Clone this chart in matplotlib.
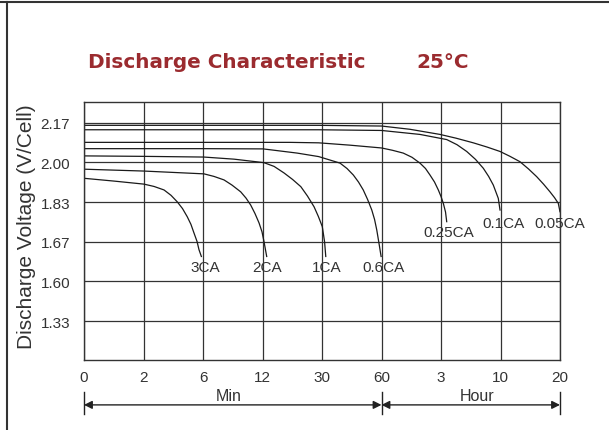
import numpy as np
import matplotlib
matplotlib.use("Agg")
import matplotlib.pyplot as plt

# axis ticks (time in minutes, voltage per cell)
time_ticks = [0, 2, 6, 12, 30, 60, 180, 600, 1200]
time_labels = ["0", "2", "6", "12", "30", "60", "3", "10", "20"]
volt_ticks = [1.33, 1.60, 1.67, 1.83, 2.00, 2.17]
volt_labels = ["1.33", "1.60", "1.67", "1.83", "2.00", "2.17"]

# discharge curves: minutes / volts
t_3ca = [0, 1.01, 2.03, 2.71, 3.38, 3.85, 4.27, 4.62, 4.94, 5.19, 5.39, 5.6, 5.73, 5.89]
v_3ca = [1.932, 1.920, 1.907, 1.897, 1.882, 1.859, 1.831, 1.804, 1.771, 1.740, 1.706, 1.671,
         1.656, 1.644]

t_2ca = [0, 2.03, 6.1, 7.11, 8.12, 8.92, 9.8, 10.34, 10.81, 11.24, 11.65, 11.95, 12.45, 13.27]
v_2ca = [1.971, 1.963, 1.951, 1.940, 1.925, 1.903, 1.874, 1.847, 1.818, 1.784, 1.746, 1.710,
         1.671, 1.644]

t_1ca = [0, 2.03, 6.1, 9.13, 12.45, 15.5, 18.5, 21.1, 23.6, 25.6, 27.6, 28.9, 30.15, 31.3, 31.9]
v_1ca = [2.028, 2.026, 2.023, 2.014, 1.999, 1.983, 1.955, 1.927, 1.896, 1.856, 1.811, 1.772,
         1.731, 1.670, 1.644]

t_06ca = [0, 6.1, 12.15, 14.5, 22.5, 29.0, 39.1, 42.6, 45.8, 48.4, 50.8, 53, 55.1, 56.5, 57.6,
          58.7, 59.8]
v_06ca = [2.059, 2.059, 2.058, 2.054, 2.040, 2.025, 1.997, 1.974, 1.946, 1.916, 1.882, 1.841,
          1.798, 1.760, 1.718, 1.668, 1.644]

t_025ca = [0, 20.3, 29, 44.1, 60.1, 82.2, 103.9, 121.5, 137.6, 148.7, 157.8, 166.9, 174.6, 180,
           196.4, 211.9, 220.3]
v_025ca = [2.086, 2.086, 2.084, 2.074, 2.062, 2.052, 2.040, 2.022, 1.997, 1.974, 1.946, 1.916,
           1.882, 1.854, 1.825, 1.790, 1.751]

t_01ca = [0, 29, 60.1, 137.6, 220.3, 293, 361.4, 423.6, 478.6, 516.3, 549.2, 584.4, 596.6]
v_01ca = [2.140, 2.140, 2.137, 2.120, 2.098, 2.076, 2.047, 2.013, 1.975, 1.940, 1.903, 1.846,
          1.798]

t_005ca = [0, 29, 60.1, 117.5, 178, 285.8, 408, 504.7, 596.6, 696, 796.6, 882.6, 964.8, 1033.8,
           1099, 1144.8, 1182.8, 1200]
v_005ca = [2.159, 2.159, 2.156, 2.142, 2.120, 2.104, 2.084, 2.066, 2.047, 2.026, 2.003, 1.972,
           1.939, 1.907, 1.874, 1.849, 1.825, 1.791]

curves = [("3CA", t_3ca, v_3ca), ("2CA", t_2ca, v_2ca), ("1CA", t_1ca, v_1ca),
          ("0.6CA", t_06ca, v_06ca), ("0.25CA", t_025ca, v_025ca),
          ("0.1CA", t_01ca, v_01ca), ("0.05CA", t_005ca, v_005ca)]
label_offsets = [(4, -11), (0, -11), (1, -11), (2, -11), (2, -10), (3, -13), (0, -11)]

# piecewise scales: every labelled tick equally spaced
tpos = np.arange(len(time_ticks))
volt_edges = [1.06] + volt_ticks + [2.34]
vpos = np.arange(-1, len(volt_ticks) + 1)

def fx(m):
    return np.interp(m, time_ticks, tpos)

def ix(p):
    return np.interp(p, tpos, time_ticks)

def fy(v):
    return np.interp(v, volt_edges, vpos)

def iy(p):
    return np.interp(p, vpos, volt_edges)

fig = plt.figure(figsize=(6.09, 4.31), dpi=100)
ax = fig.add_axes([84 / 609, 70 / 431, 476 / 609, 258 / 431])
ax.set_xscale("function", functions=(fx, ix))
ax.set_yscale("function", functions=(fy, iy))
ax.set_xlim(0, 1200)
ax.set_ylim(1.065, 2.259)

dark = "#333333"
ax.set_xticks(time_ticks)
ax.set_xticklabels(time_labels)
ax.set_yticks(volt_ticks)
ax.set_yticklabels(volt_labels)
ax.minorticks_off()
ax.tick_params(length=0, labelsize=11, colors=dark)
ax.tick_params(axis="x", pad=7)
ax.tick_params(axis="y", pad=10)
for lab in ax.get_xticklabels() + ax.get_yticklabels():
    lab.set_family("Liberation Sans")
ax.grid(True, color=dark, lw=0.9)
for s in ax.spines.values():
    s.set_color(dark)
    s.set_linewidth(1)

for (name, t, v), off in zip(curves, label_offsets):
    ax.plot(t, v, color="#1a1a1a", lw=0.9)
    ax.annotate(name, xy=(t[-1], v[-1]), xytext=off, textcoords="offset pixels",
                ha="center", va="center", fontsize=11, color=dark,
                family="Liberation Sans", annotation_clip=False)

ax.set_ylabel("Discharge Voltage (V/Cell)", fontsize=15, color=dark, family="Liberation Sans")
ax.yaxis.set_label_coords(-0.10, 0.52)

# Min / Hour span arrows under the axis
tr = ax.get_xaxis_transform()
for a, b in [(0, 60), (60, 1200)]:
    ax.annotate("", xy=(a, -0.174), xytext=(b, -0.174), xycoords=tr,
                arrowprops=dict(arrowstyle="<|-|>", color="#222222", lw=1,
                                mutation_scale=12, shrinkA=0, shrinkB=0),
                annotation_clip=False)
for m in [0, 60, 1200]:
    ax.plot([m, m], [-0.124, -0.209], transform=tr, color="#222222", lw=1, clip_on=False)
ax.text(0.305, -0.136, "Min", transform=ax.transAxes, ha="center", va="center",
        fontsize=11.5, color=dark, family="Liberation Sans")
ax.text(0.825, -0.136, "Hour", transform=ax.transAxes, ha="center", va="center",
        fontsize=11.5, color=dark, family="Liberation Sans")

red = "#9b2b2f"
fig.text(88 / 609, 1 - 63 / 431, "Discharge Characteristic", fontsize=14.4,
         fontweight="bold", color=red, va="center")
fig.text(416 / 609, 1 - 63 / 431, "25°C", fontsize=14.4, fontweight="bold",
         color=red, va="center")

# page frame lines
fig.add_artist(plt.Line2D([0, 1], [1 - 3 / 431, 1 - 3 / 431], color=dark, lw=1.5))
fig.add_artist(plt.Line2D([7 / 609, 7 / 609], [0, 1 - 3 / 431], color=dark, lw=1.5))

fig.savefig("out.png", dpi=100)
